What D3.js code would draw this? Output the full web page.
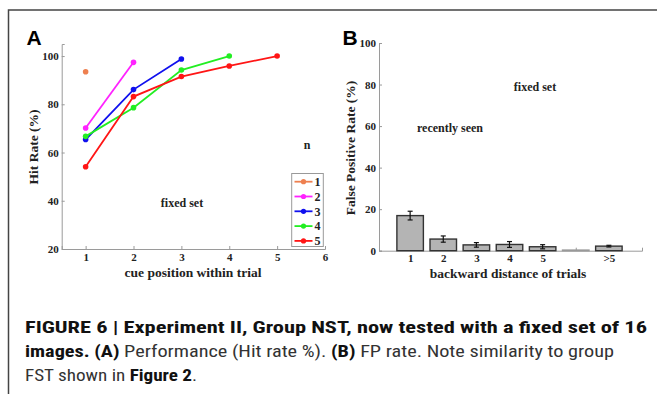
<!DOCTYPE html>
<html><head><meta charset="utf-8">
<script src="https://cdn.jsdelivr.net/npm/d3@7"></script>
<style>
body{margin:0;background:#fff;}
svg{display:block;}
.tick text{font-family:"Liberation Serif","Times New Roman",serif;font-weight:bold;font-size:11px;fill:#222;}
.lab{font-family:"Liberation Serif","Times New Roman",serif;font-weight:bold;font-size:13.5px;fill:#222;}
.ann{font-family:"Liberation Serif","Times New Roman",serif;font-weight:bold;font-size:12px;fill:#222;}
.panel{font-family:"Liberation Sans",Arial,sans-serif;font-weight:bold;font-size:21px;fill:#000;}
.cap{font-family:"Liberation Sans Narrow","Roboto Condensed","Liberation Sans",Arial,sans-serif;font-size:16px;fill:#333;}
</style></head>
<body>
<svg id="c" width="657" height="394"></svg>
<script>
// ---- Panel A data ----
const seriesNames = ["1","2","3","4","5"];
const seriesColors = ["#ee8050","#ff22ff","#1010ee","#22ee22","#ff1515"];
const hitN1 = [93.5];
const hitN2 = [70.2, 97.4];
const hitN3 = [65.4, 86.1, 98.8];
const hitN4 = [66.7, 78.6, 94.2, 100];
const hitN5 = [54.1, 83.2, 91.5, 95.9, 100];
const aXTicks = [1,2,3,4,5,6];
const aYTicks = [20,40,60,80,100];

// ---- Panel B data ----
const fpCategories = ["1","2","3","4","5","",">5"];
const fpValues = [16.9, 5.6, 2.8, 3.0, 1.9, 0.3, 2.2];
const fpErrors = [2.1, 1.5, 1.1, 1.4, 1.0, 0, 0.4];
const bYTicks = [0,20,40,60,80,100];

const svg = d3.select("#c");
const axisColor = "#9a9a9a";

// frame
svg.append("path").attr("d","M8.5,394 V10 H657").attr("fill","none").attr("stroke","#444").attr("stroke-width",1.5);

// ================= Panel A =================
const xA = d3.scaleLinear().domain([0.5,6]).range([61.7,325]);
const yA = d3.scaleLinear().domain([20,105]).range([249,44]);
const gA = svg.append("g");
const axA_x = gA.append("g").attr("transform",`translate(0,${yA(20)})`)
  .call(d3.axisBottom(xA).tickValues(aXTicks).tickSize(-3).tickPadding(4).tickFormat(d3.format("d")));
const axA_y = gA.append("g").attr("transform",`translate(${xA(0.5)},0)`)
  .call(d3.axisLeft(yA).tickValues(aYTicks).tickSize(-3).tickPadding(3));
[axA_x,axA_y].forEach(a=>{a.select(".domain").attr("stroke",axisColor);a.selectAll(".tick line").attr("stroke",axisColor);});

const seriesA = [hitN1,hitN2,hitN3,hitN4,hitN5];
const line = d3.line().x((d,i)=>xA(i+1)).y(d=>yA(d));
seriesA.forEach((s,k)=>{
  gA.append("path").datum(s).attr("d",line).attr("fill","none").attr("stroke",seriesColors[k]).attr("stroke-width",1.8);
  gA.selectAll(null).data(s).enter().append("circle")
    .attr("cx",(d,i)=>xA(i+1)).attr("cy",d=>yA(d)).attr("r",2.8).attr("fill",seriesColors[k]);
});

// legend
const lg = gA.append("g");
lg.append("rect").attr("x",291.7).attr("y",173.5).attr("width",31.6).attr("height",73).attr("fill","#fff").attr("stroke","#999").attr("stroke-width",1);
seriesNames.forEach((n,k)=>{
  const y = 181.7 + k*14.8;
  lg.append("line").attr("x1",294.5).attr("x2",312.5).attr("y1",y).attr("y2",y).attr("stroke",seriesColors[k]).attr("stroke-width",1.8);
  lg.append("circle").attr("cx",303.5).attr("cy",y).attr("r",2.6).attr("fill",seriesColors[k]);
  lg.append("text").attr("class","ann").attr("x",314.5).attr("y",y+4.2).text(n);
});

gA.append("text").attr("class","panel").attr("x",26.5).attr("y",44.5).text("A");
gA.append("text").attr("class","lab").attr("transform","translate(38,147) rotate(-90)").attr("text-anchor","middle").text("Hit Rate (%)");
gA.append("text").attr("class","lab").attr("x",193).attr("y",277).attr("text-anchor","middle").text("cue position within trial");
gA.append("text").attr("class","ann").attr("x",307).attr("y",149).attr("text-anchor","middle").text("n");
gA.append("text").attr("class","ann").attr("x",182).attr("y",206.5).attr("text-anchor","middle").text("fixed set");

// ================= Panel B =================
const xB = d3.scaleLinear().domain([0.06,8]).range([379,642]);
const yB = d3.scaleLinear().domain([0,100]).range([250.7,43]);
const gB = svg.append("g");
const pos = fpCategories.map((c,i)=>i+1);
const axB_x = gB.append("g").attr("transform",`translate(0,${yB(0)})`)
  .call(d3.axisBottom(xB).tickValues(pos).tickSize(-3).tickPadding(4).tickFormat((d,i)=>fpCategories[i]));
const axB_y = gB.append("g").attr("transform",`translate(${xB(0.06)},0)`)
  .call(d3.axisLeft(yB).tickValues(bYTicks).tickSize(-3).tickPadding(3));
[axB_x,axB_y].forEach(a=>{a.select(".domain").attr("stroke",axisColor);a.selectAll(".tick line").attr("stroke",axisColor);});

const bw = 0.8;
gB.selectAll(".bar").data(fpValues).enter().append("rect").attr("class","bar")
  .attr("x",(d,i)=>xB(pos[i]-bw/2)).attr("width",xB(bw)-xB(0))
  .attr("y",d=>yB(d)).attr("height",d=>yB(0)-yB(d))
  .attr("fill","#b4b4b4").attr("stroke",(d,i)=>fpErrors[i]>0?"#333":"#999").attr("stroke-width",1.4);
fpValues.forEach((v,i)=>{
  if(fpErrors[i]<=0) return;
  const x = xB(pos[i]), e = fpErrors[i];
  gB.append("line").attr("x1",x).attr("x2",x).attr("y1",yB(v-e)).attr("y2",yB(v+e)).attr("stroke","#111").attr("stroke-width",1.2);
  [v-e,v+e].forEach(t=>gB.append("line").attr("x1",x-2.5).attr("x2",x+2.5).attr("y1",yB(t)).attr("y2",yB(t)).attr("stroke","#111").attr("stroke-width",1.2));
});

gB.append("text").attr("class","panel").attr("x",342.5).attr("y",45).text("B");
gB.append("text").attr("class","lab").attr("transform","translate(355,148) rotate(-90)").attr("text-anchor","middle").text("False Positive Rate (%)");
gB.append("text").attr("class","lab").attr("x",508).attr("y",277.5).attr("text-anchor","middle").text("backward distance of trials");
gB.append("text").attr("class","ann").attr("x",535).attr("y",90.5).attr("text-anchor","middle").text("fixed set");
gB.append("text").attr("class","ann").attr("x",450).attr("y",131.5).attr("text-anchor","middle").text("recently seen");

// ================= Caption =================
const capLines = [
  {y:333, len:622, parts:[["FIGURE 6 | Experiment II, Group NST, now tested with a fixed set of 16",true]]},
  {y:357, len:589, parts:[["images. (A)",true],[" Performance (Hit rate %). ",false],["(B)",true],[" FP rate. Note similarity to group",false]]},
  {y:381, len:172, parts:[["FST shown in ",false],["Figure 2",true],[".",false]]}
];
capLines.forEach(l=>{
  const t = svg.append("text").attr("class","cap").attr("x",25).attr("y",l.y)
    .attr("textLength",l.len).attr("lengthAdjust","spacingAndGlyphs");
  l.parts.forEach(p=>t.append("tspan").attr("font-weight",p[1]?"bold":"normal").attr("fill",p[1]?"#111":"#333").text(p[0]));
});
</script>
</body></html>
